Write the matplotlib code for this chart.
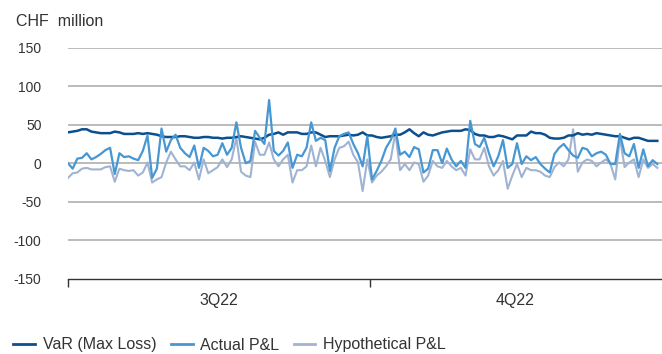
import matplotlib
matplotlib.use("Agg")
import matplotlib.pyplot as plt
import numpy as np

plt.rcParams['font.family'] = ['Liberation Sans', 'DejaVu Sans']

# ---------------- data ----------------
series_names = ["VaR (Max Loss)", "Actual P&L", "Hypothetical P&L"]
quarters = ["3Q22", "4Q22"]
quarter_days = [65, 62]

var_max_loss = [
    40, 41, 42, 44, 44, 41, 40, 39, 39, 39,
    41, 40, 38, 38, 38, 39, 38, 39, 38, 37,
    35, 34, 34, 34, 35, 35, 34, 33, 33, 34,
    34, 33, 33, 32, 33, 33, 34, 35, 34, 33,
    32, 31, 33, 37, 38, 40, 37, 40, 40, 40,
    38, 38, 40, 40, 37, 34, 35, 35,
    35, 36, 37, 36, 37, 40, 36, 36, 34, 33,
    34, 35, 37, 37, 40, 44, 39, 35, 40, 37,
    36, 38, 40, 41, 42, 42, 42, 44, 43, 38,
    36, 36, 34, 34, 36, 35, 33, 31, 36, 36,
    36, 41, 39, 39, 37, 33, 32, 32, 33, 36,
    36, 39, 37, 38, 37, 39, 38, 37, 36, 35,
    35, 33, 31, 33, 33, 31, 29, 29, 29,
]

actual_pl = [
    0, -7, 6, 7, 13, 5, 8, 12, 17, 20,
    -14, 13, 8, 9, 6, 4, 16, 36, -19, -7,
    45, 15, 30, 37, 20, 13, 8, 23, -6, 20,
    16, 9, 11, 26, 11, 20, 53, 20, 0, 3,
    42, 33, 25, 82, 16, 10, 16, 27, -6, 11,
    9, 20, 53, 29, 33, 30, -10, 20,
    35, 38, 40, 25, 13, -4, 35, -21, -10, 3,
    20, 30, 45, 11, 15, 8, 21, 18, -12, -7,
    17, 17, 0, 19, 5, -4, 3, -6, 55, 25,
    21, 33, 13, -4, 9, 30, -6, -1, 26, -1,
    9, 4, 8, -1, -7, -12, 12, 20, 25, 17,
    10, 7, 20, 18, 9, 13, 15, 11, -1, -1,
    38, 13, 9, 25, -6, 18, -4, 4, -1,
]

hypothetical_pl = [
    -19, -13, -12, -7, -6, -8, -8, -8, -5, -4,
    -24, -7, -9, -10, -9, -16, -12, 1, -25, -21,
    -18, 1, 15, 5, -4, -4, -9, 1, -21, 5,
    -13, -9, -5, 5, -5, 5, 33, -11, -16, -18,
    28, 11, 11, 27, 5, -4, 5, 11, -25, -9,
    -9, -4, 23, -4, 20, 3, -18, 5,
    20, 22, 28, 11, 1, -36, 5, -25, -16, -11,
    -4, 5, 40, -9, -1, -9, 1, -1, -24, -16,
    3, -4, -6, 3, -4, -9, -6, -16, 18, 5,
    5, 20, -4, -16, -9, 3, -33, -16, -1, -18,
    -6, -9, -9, -11, -16, -18, -5, 1, -4, 5,
    44, -11, 1, 5, 3, -4, 1, 5, -1, -21,
    33, -5, 1, 5, -18, 5, -6, -1, -6,
]

yticks = [-150, -100, -50, 0, 50, 100, 150]

# ---------------- plot ----------------
fig = plt.figure(figsize=(6.62, 3.54), dpi=100)
ax = fig.add_axes([0.1027, 0.2119, 0.8973, 0.6539])

x = np.arange(len(actual_pl))
c_var = "#0b4f8e"
c_act = "#4797d3"
c_hyp = "#a0b3d2"

ax.plot(x, hypothetical_pl, color=c_hyp, lw=1.5, zorder=3, label=series_names[2])
ax.plot(x, var_max_loss, color=c_var, lw=1.8, zorder=4, label=series_names[0])
ax.plot(x, actual_pl, color=c_act, lw=1.6, zorder=5, label=series_names[1])

ax.set_ylim(-150, 150)
ax.set_xlim(0, len(x))

for v in yticks[1:]:
    ax.axhline(v, color="#a8a8a8", lw=1.1, zorder=1)

for s in ["top", "right", "left"]:
    ax.spines[s].set_visible(False)
ax.spines["bottom"].set_color("#333333")
ax.spines["bottom"].set_linewidth(1.0)

ax.set_yticks(yticks)
ax.set_yticklabels([str(v) for v in yticks])
ax.tick_params(axis="y", length=0, pad=19, labelsize=10, labelcolor="#333333")

bounds = np.concatenate([[0], np.cumsum(quarter_days)]) - 0.5
bounds[0] = 0
ax.set_xticks(bounds[:-1])
ax.set_xticklabels([])
ax.tick_params(axis="x", which="major", direction="out", length=6, width=1, color="#333333")
mids = [(bounds[i] + bounds[i + 1]) / 2 for i in range(len(quarters))]
ax.set_xticks(mids, minor=True)
ax.set_xticklabels(quarters, minor=True)
ax.tick_params(axis="x", which="minor", length=0, pad=10, labelsize=11.5, labelcolor="#333333")

fig.text(0.024, 1 - 21 / 354, "CHF  million", fontsize=11.5, color="#333333", va="center", ha="left")

handles, labels = ax.get_legend_handles_labels()
order = [1, 2, 0]
leg = fig.legend([handles[i] for i in order], [labels[i] for i in order],
                 loc="center left", bbox_to_anchor=(0.02, 1 - 345 / 354), ncol=3, frameon=False,
                 fontsize=11.5, handlelength=1.37, handletextpad=0.5, columnspacing=0.87,
                 borderpad=0, borderaxespad=0, labelcolor="#333333")
for h in leg.get_lines():
    h.set_linewidth(2.0)

fig.savefig("out.png", dpi=100)
